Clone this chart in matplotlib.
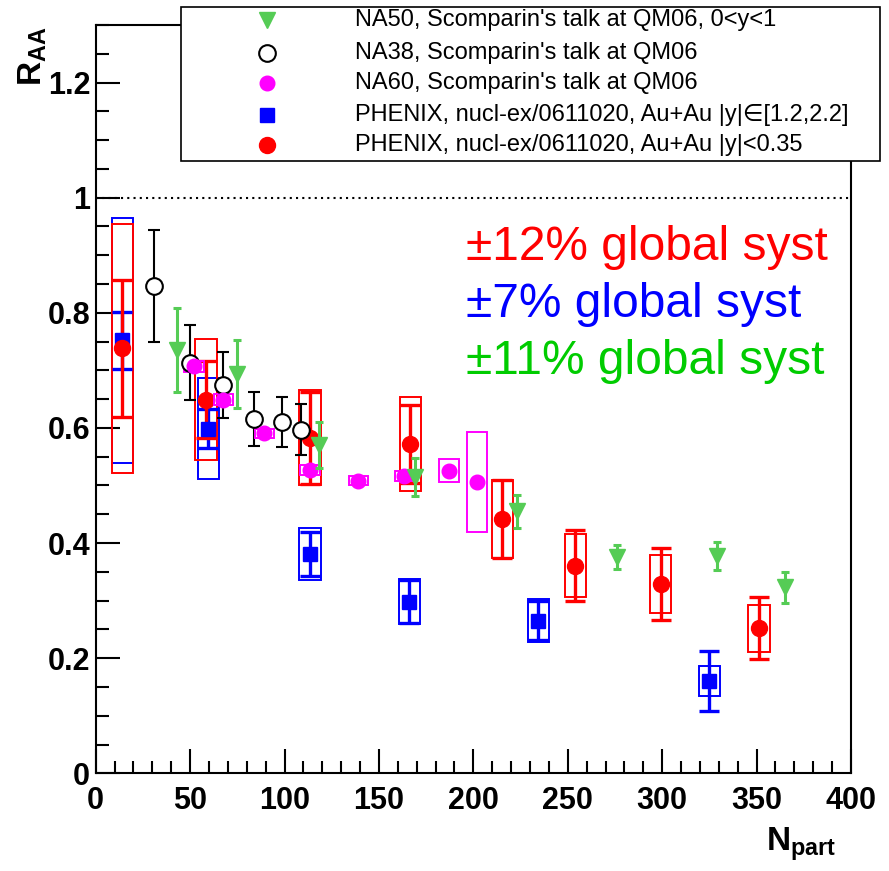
import matplotlib
matplotlib.use("Agg")
import matplotlib.pyplot as plt
from matplotlib import font_manager
from matplotlib.lines import Line2D
from matplotlib.patches import Rectangle
from matplotlib.ticker import MultipleLocator

# ---------------- data ----------------
na50_x = [43, 75, 118, 169, 223, 276, 329, 365]
na50_y = [0.736, 0.693, 0.571, 0.514, 0.455, 0.376, 0.378, 0.323]
na50_err = [0.073, 0.059, 0.040, 0.033, 0.029, 0.021, 0.024, 0.027]

na38_x = [31, 50, 67.6, 83.8, 98.8, 108.6]
na38_y = [0.847, 0.713, 0.675, 0.616, 0.610, 0.597]
na38_err = [0.097, 0.065, 0.057, 0.047, 0.043, 0.044]

na60_x = [52.2, 67.6, 89.3, 113.5, 139.1, 163.5, 187.1, 202.1]
na60_y = [0.707, 0.649, 0.591, 0.527, 0.508, 0.516, 0.526, 0.506]
na60_syst = [0.010, 0.010, 0.008, 0.008, 0.008, 0.009, 0.020, 0.087]

phx_mid_x = [14, 58.4, 113.5, 166.5, 215.4, 253.9, 299.2, 351.3]
phx_mid_y = [0.738, 0.649, 0.583, 0.572, 0.442, 0.361, 0.329, 0.252]
phx_mid_stat = [0.119, 0.067, 0.080, 0.067, 0.068, 0.062, 0.062, 0.054]
phx_mid_syst = [0.216, 0.105, 0.083, 0.082, 0.068, 0.054, 0.051, 0.041]

phx_fwd_x = [14, 59.7, 113.5, 166.1, 234.4, 325]
phx_fwd_y = [0.752, 0.599, 0.381, 0.298, 0.265, 0.161]
phx_fwd_stat = [0.050, 0.034, 0.038, 0.037, 0.034, 0.052]
phx_fwd_syst = [0.213, 0.088, 0.046, 0.039, 0.037, 0.026]

legend_labels = [
    "NA50, Scomparin's talk at QM06, 0<y<1",
    "NA38, Scomparin's talk at QM06",
    "NA60, Scomparin's talk at QM06",
    "PHENIX, nucl-ex/0611020, Au+Au |y|\u2208[1.2,2.2]",
    "PHENIX, nucl-ex/0611020, Au+Au |y|<0.35",
]
syst_labels = ["\u00b112% global syst", "\u00b17% global syst", "\u00b111% global syst"]

# ---------------- style ----------------
names = {f.name for f in font_manager.fontManager.ttflist}
narrow = "Liberation Sans Narrow" if "Liberation Sans Narrow" in names else "Liberation Sans"
tick_size = 26 if narrow == "Liberation Sans Narrow" else 22

plt.rcParams['font.family'] = ['Liberation Sans', 'DejaVu Sans']
plt.rcParams['mathtext.fontset'] = 'custom'
plt.rcParams['mathtext.bf'] = narrow + ':bold'
plt.rcParams['mathtext.rm'] = narrow + ':bold'

GREEN = '#55cc55'
RED = '#ff0000'
BLUE = '#0000ff'
MAG = '#ff00ff'

W, H = 889, 871
fig = plt.figure(figsize=(W / 100, H / 100), dpi=100)
ax = fig.add_axes([95.7 / W, 1 - 773.3 / H, (851 - 95.7) / W, (773.3 - 25) / H])
ax.set_xlim(0, 400)
ax.set_ylim(0, 1.3)

for s in ax.spines.values():
    s.set_linewidth(1.5)

ax.xaxis.set_major_locator(MultipleLocator(50))
ax.xaxis.set_minor_locator(MultipleLocator(10))
ax.yaxis.set_major_locator(MultipleLocator(0.2))
ax.yaxis.set_minor_locator(MultipleLocator(0.05))
ax.tick_params(which='both', direction='in', top=False, right=False, width=1.5)
ax.tick_params(which='major', length=17)
ax.tick_params(which='minor', length=9)
ax.tick_params(axis='x', which='major', pad=9)
ax.tick_params(axis='y', which='major', pad=4)

def ylab(v, pos):
    if abs(v) < 1e-9:
        return '0'
    if abs(v - round(v)) < 1e-9:
        return '%d' % round(v)
    return '%.1f' % v

ax.yaxis.set_major_formatter(plt.FuncFormatter(ylab))
ax.xaxis.set_major_formatter(plt.FuncFormatter(lambda v, p: '%d' % v))
for lab in ax.get_xticklabels() + ax.get_yticklabels():
    lab.set_fontfamily(narrow)
    lab.set_fontweight('bold')
    lab.set_fontsize(tick_size)

# reference line at 1
ax.axhline(1.0, color='black', lw=1.5, ls=(0, (1, 2)), zorder=1)

# ---------------- PHENIX forward (blue) ----------------
fwd_lo = [y - s for y, s in zip(phx_fwd_y, phx_fwd_syst)]
ax.bar(phx_fwd_x, [2 * s for s in phx_fwd_syst], bottom=fwd_lo, width=11.2,
       fill=False, edgecolor=BLUE, lw=1.4, zorder=2)
ax.errorbar(phx_fwd_x, phx_fwd_y, yerr=phx_fwd_stat, fmt='s', color=BLUE,
            ms=10.5, elinewidth=2.4, capsize=7, capthick=2.4, zorder=3)

# ---------------- PHENIX mid (red) ----------------
mid_lo = [y - s for y, s in zip(phx_mid_y, phx_mid_syst)]
ax.bar(phx_mid_x, [2 * s for s in phx_mid_syst], bottom=mid_lo, width=11.2,
       fill=False, edgecolor=RED, lw=1.4, zorder=2)
ax.errorbar(phx_mid_x, phx_mid_y, yerr=phx_mid_stat, fmt='o', color=RED,
            ms=11.5, elinewidth=2.4, capsize=7, capthick=2.4, zorder=3)

# ---------------- NA38 (black open circles) ----------------
ax.errorbar(na38_x, na38_y, yerr=na38_err, fmt='o', mfc='white', mec='black',
            mew=1.5, color='black', ms=12, elinewidth=1.5, capsize=4, capthick=1.5, zorder=4)

# ---------------- NA60 (magenta) ----------------
na60_lo = [y - s for y, s in zip(na60_y, na60_syst)]
ax.bar(na60_x, [2 * s for s in na60_syst], bottom=na60_lo, width=10.4,
       fill=False, edgecolor=MAG, lw=1.4, zorder=4)
ax.plot(na60_x, na60_y, 'o', color=MAG, ms=10.5, zorder=5)

# ---------------- NA50 (green triangles) ----------------
ax.errorbar(na50_x, na50_y, yerr=na50_err, fmt='v', color=GREEN, ms=11,
            elinewidth=2.2, capsize=3, capthick=2.2, zorder=5)

# ---------------- global syst texts ----------------
for i, (txt, c) in enumerate(zip(syst_labels, [RED, BLUE, '#00cc00'])):
    fig.text(466 / W, 1 - (260 + 57 * i) / H, txt, color=c, fontsize=34.5,
             ha='left', va='baseline')

# ---------------- axis titles ----------------
fig.text(33 / W, 1 - 26 / H, r'$\mathbf{R_{AA}}$', rotation=90, fontsize=24,
         ha='center', va='top')
fig.text(836 / W, 1 - 851 / H, r'$\mathbf{N_{part}}$', fontsize=24,
         ha='right', va='baseline')

# ---------------- legend ----------------
fig.add_artist(Rectangle((181 / W, 1 - 161 / H), (880 - 181) / W, (161 - 7) / H,
                         transform=fig.transFigure, facecolor='white',
                         edgecolor='black', lw=1.2, zorder=10))
leg_marks = [
    dict(marker='v', color=GREEN, ms=11),
    dict(marker='o', mfc='white', mec='black', mew=1.5, ms=12),
    dict(marker='o', color=MAG, ms=10.5),
    dict(marker='s', color=BLUE, ms=10.5),
    dict(marker='o', color=RED, ms=11.5),
]
rows = [20, 53, 83, 115, 145]
for yy, lab, mk in zip(rows, legend_labels, leg_marks):
    fig.add_artist(Line2D([267 / W], [1 - yy / H], transform=fig.transFigure,
                          linestyle='none', zorder=11, **mk))
    fig.text(355 / W, 1 - yy / H, lab, fontsize=17, ha='left', va='center',
             zorder=12)

fig.savefig('out.png', dpi=100)
